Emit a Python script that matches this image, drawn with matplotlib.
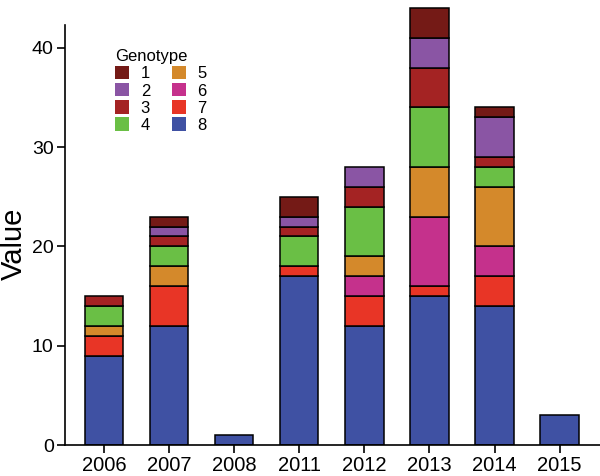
import numpy as np
import matplotlib.pyplot as plt
from matplotlib.patches import Patch

plt.rcParams['font.family'] = ['Liberation Sans', 'DejaVu Sans']

years = ['2006', '2007', '2008', '2011', '2012', '2013', '2014', '2015']
genotypes = ['1', '2', '3', '4', '5', '6', '7', '8']

# counts per genotype, one value per year
g8 = [9, 12, 1, 17, 12, 15, 14, 3]
g7 = [2, 4, 0, 1, 3, 1, 3, 0]
g6 = [0, 0, 0, 0, 2, 7, 3, 0]
g5 = [1, 2, 0, 0, 2, 5, 6, 0]
g4 = [2, 2, 0, 3, 5, 6, 2, 0]
g3 = [1, 1, 0, 1, 2, 4, 1, 0]
g2 = [0, 1, 0, 1, 2, 3, 4, 0]
g1 = [0, 1, 0, 2, 0, 3, 1, 0]

colors = {'1': '#741a16', '2': '#8a55a4', '3': '#a42323', '4': '#6abf45',
          '5': '#d4892b', '6': '#c5318c', '7': '#e83526', '8': '#3f51a3'}

# bottom to top
stack = [('8', g8), ('7', g7), ('6', g6), ('5', g5), ('4', g4), ('3', g3), ('2', g2), ('1', g1)]

fig = plt.figure(figsize=(6, 4.76), dpi=100)
ax = fig.add_axes([0.108, 0.065, 0.892, 0.935])

x = np.arange(len(years))
bottom = np.zeros(len(years))
for g, vals in stack:
    vals = np.array(vals, dtype=float)
    mask = vals > 0
    ax.bar(x[mask], vals[mask], 0.59, bottom=bottom[mask], color=colors[g],
           edgecolor='black', linewidth=1.1)
    bottom += vals

ax.set_xlim(-0.6, 7.62)
ax.set_ylim(0, 44.8)
ax.spines['left'].set_bounds(0, 42.3)
ax.spines['top'].set_visible(False)
ax.spines['right'].set_visible(False)
ax.spines['left'].set_linewidth(1.2)
ax.spines['bottom'].set_linewidth(1.2)
ax.set_xticks(x)
ax.set_xticklabels(years, fontsize=14.5)
ax.set_yticks([0, 10, 20, 30, 40])
ax.tick_params(axis='y', labelsize=14, length=6, width=1.2, pad=2)
ax.tick_params(axis='x', length=6, width=1.2, pad=2)
ax.set_ylabel('Value', fontsize=21)
ax.yaxis.set_label_coords(-0.069, 0.452)

handles = [Patch(facecolor=colors[g], edgecolor='none', label=g) for g in genotypes]
leg = ax.legend(handles=handles, ncol=2, title='Genotype', loc='upper left',
                bbox_to_anchor=(0.081, 0.904), frameon=False, fontsize=12,
                title_fontsize=12, handlelength=0.85, handleheight=0.85,
                handletextpad=0.7, columnspacing=1.3, labelspacing=0.1,
                borderaxespad=0)
leg._legend_box.align = 'left'

fig.savefig('out.png', dpi=100)
